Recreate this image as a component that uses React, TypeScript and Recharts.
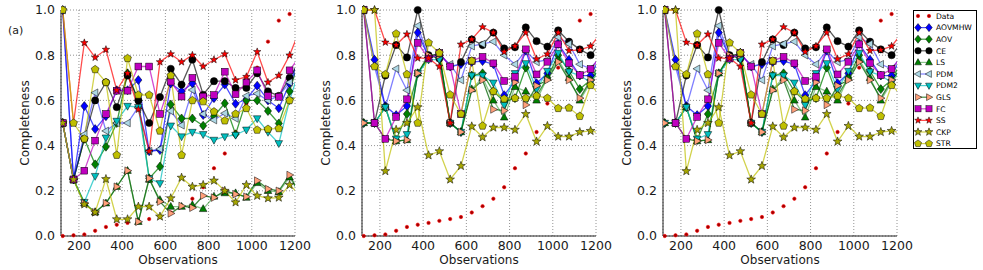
import React from 'react';
import { LineChart, Line, XAxis, YAxis, CartesianGrid, Legend } from 'recharts';

const X_VALUES = [125, 175, 225, 275, 325, 375, 425, 475, 525, 575, 625, 675, 725, 775, 825, 875, 925, 975, 1025, 1075, 1125, 1175, 1225];
const X_TICKS = [200, 400, 600, 800, 1000, 1200];
const Y_TICKS = [0, 0.2, 0.4, 0.6, 0.8, 1.0];
const X_DOMAIN = [117, 1200];

const DATA_PTS = [0.0, 0.003, 0.007, 0.023, 0.04, 0.05, 0.058, 0.067, 0.075, 0.084, 0.104, 0.132, 0.165, 0.216, 0.30, 0.365, 0.46, 0.586, 0.745, 0.86, 0.953, 0.982, null];

// Panel (a)
const AOVMHW_A = [1.0, 0.25, 0.575, 0.473, 0.53, 0.645, 0.645, 0.69, 0.375, 0.38, 0.675, 0.64, 0.675, 0.535, 0.61, 0.67, 0.585, 0.605, 0.665, 0.60, 0.565, 0.675, 0.80];
const AOV_A = [0.5, 0.25, 0.43, 0.317, 0.395, 0.50, 0.72, 0.60, 0.255, 0.307, 0.582, 0.52, 0.52, 0.488, 0.53, 0.587, 0.45, 0.60, 0.60, 0.553, 0.498, 0.64, 0.80];
const CE_A = [0.5, 0.25, 0.43, 0.60, 0.68, 0.57, 0.71, 0.60, 0.50, 0.615, 0.74, 0.67, 0.78, 0.625, 0.685, 0.685, 0.655, 0.655, 0.72, 0.64, 0.62, 0.70, 0.78];
const LS_A = [0.5, 0.25, 0.145, 0.105, 0.145, 0.218, 0.289, 0.063, 0.25, 0.16, 0.13, 0.13, 0.137, 0.12, 0.175, 0.19, 0.19, 0.17, 0.235, 0.20, 0.195, 0.26, 0.18];
const PDM_A = [1.0, 0.25, 0.45, 0.634, 0.465, 0.50, 0.50, 0.57, 0.375, 0.385, 0.553, 0.49, 0.646, 0.54, 0.513, 0.543, 0.52, 0.62, 0.63, 0.60, 0.62, 0.68, 0.76];
const PDM2_A = [0.5, 0.25, 0.15, 0.265, 0.435, 0.509, 0.575, 0.57, 0.255, 0.233, 0.488, 0.44, 0.46, 0.45, 0.425, 0.44, 0.447, 0.47, 0.52, 0.46, 0.41, 0.60, 0.75];
const GLS_A = [0.5, 0.25, 0.145, 0.105, 0.145, 0.218, 0.289, 0.063, 0.255, 0.152, 0.10, 0.133, 0.125, 0.178, 0.17, 0.20, 0.185, 0.174, 0.245, 0.208, 0.20, 0.27, 0.18];
const FC_A = [0.5, 0.25, 0.289, 0.422, 0.54, 0.643, 0.643, 0.75, 0.75, 0.54, 0.683, 0.617, 0.70, 0.617, 0.624, 0.727, 0.627, 0.68, 0.733, 0.62, 0.616, 0.733, 0.80];
const SS_A = [1.0, 0.5, 0.855, 0.79, 0.825, 0.645, 0.72, 0.56, 0.375, 0.77, 0.805, 0.77, 0.80, 0.75, 0.78, 0.805, 0.69, 0.705, 0.815, 0.68, 0.71, 0.80, 0.92];
const CKP_A = [0.5, 0.25, 0.14, 0.105, 0.252, 0.074, 0.074, 0.13, 0.13, 0.086, 0.167, 0.258, 0.218, 0.226, 0.245, 0.20, 0.149, 0.226, 0.178, 0.167, 0.17, 0.226, 0.18];
const STR_A = [1.0, 0.5, 0.43, 0.737, 0.68, 0.358, 0.786, 0.624, 0.624, 0.465, 0.71, 0.358, 0.60, 0.595, 0.55, 0.51, 0.54, 0.565, 0.469, 0.473, 0.476, 0.60, 0.62];

// Panels 2 and 3
const AOVMHW_B = [1.0, 0.78, 0.575, 0.535, 0.575, 0.90, 0.79, 0.81, 0.75, 0.76, 0.77, 0.774, 0.76, 0.623, 0.686, 0.82, 0.676, 0.72, 0.85, 0.78, 0.71, 0.71, 0.80];
const AOV_B = [0.5, 0.5, 0.57, 0.425, 0.54, 0.72, 0.79, 0.81, 0.50, 0.46, 0.71, 0.72, 0.64, 0.595, 0.61, 0.745, 0.62, 0.70, 0.80, 0.73, 0.65, 0.69, 0.78];
const CE_B = [1.0, 0.5, 0.71, 0.845, 0.79, 1.0, 0.80, 0.785, 0.50, 0.77, 0.87, 0.845, 0.90, 0.83, 0.835, 0.923, 0.862, 0.838, 0.91, 0.86, 0.826, 0.80, 0.86];
const LS_B = [0.5, 0.5, 0.57, 0.42, 0.425, 0.72, 0.79, 0.81, 0.50, 0.46, 0.65, 0.70, 0.60, 0.525, 0.66, 0.64, 0.60, 0.70, 0.78, 0.70, 0.60, 0.68, 0.74];
const PDM_B = [1.0, 0.75, 0.57, 0.74, 0.645, 0.93, 0.79, 0.80, 0.76, 0.69, 0.84, 0.85, 0.86, 0.80, 0.76, 0.82, 0.77, 0.78, 0.88, 0.85, 0.76, 0.74, 0.80];
const PDM2_B = [0.5, 0.5, 0.57, 0.43, 0.45, 0.72, 0.78, 0.78, 0.50, 0.46, 0.71, 0.71, 0.678, 0.58, 0.72, 0.764, 0.65, 0.73, 0.81, 0.727, 0.71, 0.68, 0.76];
const GLS_B = [0.5, 0.5, 0.43, 0.42, 0.425, 0.72, 0.80, 0.80, 0.50, 0.46, 0.645, 0.69, 0.56, 0.555, 0.68, 0.58, 0.665, 0.69, 0.77, 0.69, 0.61, 0.69, 0.75];
const FC_B = [1.0, 0.5, 0.43, 0.527, 0.605, 0.855, 0.785, 0.81, 0.75, 0.54, 0.775, 0.793, 0.764, 0.686, 0.705, 0.826, 0.715, 0.771, 0.848, 0.764, 0.712, 0.739, 0.80];
const SS_B = [1.0, 1.0, 0.857, 0.845, 0.893, 0.787, 0.787, 0.75, 0.50, 0.848, 0.87, 0.925, 0.90, 0.815, 0.84, 0.90, 0.783, 0.805, 0.90, 0.82, 0.823, 0.84, 0.90];
const CKP_B = [1.0, 1.0, 0.287, 0.47, 0.50, 0.57, 0.357, 0.375, 0.25, 0.31, 0.485, 0.437, 0.48, 0.48, 0.47, 0.54, 0.418, 0.487, 0.44, 0.44, 0.46, 0.465, 0.455];
const STR_B = [1.0, 0.75, 0.715, 0.895, 0.715, 0.50, 0.855, 0.81, 0.625, 0.54, 0.775, 0.487, 0.64, 0.607, 0.61, 0.61, 0.62, 0.61, 0.565, 0.567, 0.53, 0.667, 0.62];

const FONT = '"DejaVu Sans", Verdana, sans-serif';

type Style = { key: string; shape: string; face: string; line: string; op: number; size?: number };

const SERIES: Style[] = [
  { key: 'AOVMHW', shape: 'diamond', face: '#0000ff', line: '#0000ff', op: 0.7 },
  { key: 'AOV', shape: 'diamond', face: '#008000', line: '#008000', op: 0.75 },
  { key: 'CE', shape: 'circle', face: '#000000', line: '#000000', op: 0.65 },
  { key: 'LS', shape: 'triUp', face: '#008000', line: '#008000', op: 0.45 },
  { key: 'PDM', shape: 'triLeft', face: '#add8e6', line: '#0000ff', op: 0.5 },
  { key: 'PDM2', shape: 'triDown', face: '#00bfbf', line: '#00bfbf', op: 0.7 },
  { key: 'GLS', shape: 'triRight', face: '#ffa07a', line: '#006400', op: 0.75 },
  { key: 'FC', shape: 'square', face: '#bf00bf', line: '#bf00bf', op: 0.7 },
  { key: 'SS', shape: 'star', face: '#ff0000', line: '#ff0000', op: 0.7, size: 0.85 },
  { key: 'CKP', shape: 'star', face: '#a8a800', line: '#bfbf00', op: 0.7 },
  { key: 'STR', shape: 'pentagon', face: '#bfbf00', line: '#bfbf00', op: 0.7 },
];

function polyPts(shape: string, x: number, y: number, k: number): string {
  let pts: number[][] = [];
  if (shape === 'diamond') pts = [[0, -4.5], [3.6, 0], [0, 4.5], [-3.6, 0]];
  else if (shape === 'triUp') pts = [[0, -4.2], [3.8, 2.7], [-3.8, 2.7]];
  else if (shape === 'triDown') pts = [[0, 4.2], [3.8, -2.7], [-3.8, -2.7]];
  else if (shape === 'triLeft') pts = [[-4.2, 0], [2.7, -3.8], [2.7, 3.8]];
  else if (shape === 'triRight') pts = [[4.2, 0], [-2.7, -3.8], [-2.7, 3.8]];
  else if (shape === 'star') {
    for (let i = 0; i < 10; i++) {
      const a = (-90 + 36 * i) * Math.PI / 180;
      const r = i % 2 === 0 ? 4.6 : 1.9;
      pts.push([r * Math.cos(a), r * Math.sin(a)]);
    }
  } else if (shape === 'pentagon') {
    for (let i = 0; i < 5; i++) {
      const a = (-90 + 72 * i) * Math.PI / 180;
      pts.push([4.1 * Math.cos(a), 4.1 * Math.sin(a)]);
    }
  }
  return pts.map(p => `${(x + p[0] * k).toFixed(2)},${(y + p[1] * k).toFixed(2)}`).join(' ');
}

function Marker({ shape, x, y, face, size }: { shape: string; x: number; y: number; face: string; size?: number }) {
  const k = size ?? 1;
  if (shape === 'dot') return <circle cx={x} cy={y} r={1.7} fill="#a00000" stroke="#ff0000" strokeWidth={0.6} />;
  if (shape === 'circle') return <circle cx={x} cy={y} r={3.6 * k} fill={face} stroke="#000" strokeWidth={0.5} />;
  if (shape === 'square') {
    const h = 3.4 * k;
    return <rect x={x - h} y={y - h} width={2 * h} height={2 * h} fill={face} stroke="#000" strokeWidth={0.5} />;
  }
  return <polygon points={polyPts(shape, x, y, k)} fill={face} stroke="#000" strokeWidth={0.5} />;
}

const makeDot = (s: { key: string; shape: string; face: string; size?: number }) => (props: any) => {
  const { cx, cy, index, payload } = props;
  const key = `dot-${s.key}-${index}`;
  if (cx == null || cy == null || payload == null || payload[s.key] == null) return <g key={key} />;
  return (
    <g key={key}>
      <Marker shape={s.shape} x={cx} y={cy} face={s.face} size={s.size} />
    </g>
  );
};

function buildRows(series: Record<string, (number | null)[]>) {
  return X_VALUES.map((x, i) => {
    const row: Record<string, number | null> = { x, Data: DATA_PTS[i] };
    Object.keys(series).forEach(k => { row[k] = series[k][i]; });
    return row;
  });
}

const ROWS_A = buildRows({ AOVMHW: AOVMHW_A, AOV: AOV_A, CE: CE_A, LS: LS_A, PDM: PDM_A, PDM2: PDM2_A, GLS: GLS_A, FC: FC_A, SS: SS_A, CKP: CKP_A, STR: STR_A });
const ROWS_B = buildRows({ AOVMHW: AOVMHW_B, AOV: AOV_B, CE: CE_B, LS: LS_B, PDM: PDM_B, PDM2: PDM2_B, GLS: GLS_B, FC: FC_B, SS: SS_B, CKP: CKP_B, STR: STR_B });

const LEGEND_NAMES = ['Data', 'AOVMHW', 'AOV', 'CE', 'LS', 'PDM', 'PDM2', 'GLS', 'FC', 'SS', 'CKP', 'STR'];

function LegendBox() {
  const rowH = 11.6;
  const styles: Record<string, Style> = {};
  SERIES.forEach(s => { styles[s.key] = s; });
  return (
    <svg width={65} height={140} style={{ display: 'block' }}>
      <rect x={0.5} y={0.5} width={63} height={138} fill="#fff" stroke="#000" strokeWidth={1} />
      {LEGEND_NAMES.map((n, i) => {
        const y = 6 + i * rowH;
        const s = styles[n];
        return (
          <g key={n}>
            {s && <line x1={5} x2={16} y1={y} y2={y} stroke={s.line} strokeOpacity={s.op} strokeWidth={1.2} />}
            {n === 'Data' ? (
              <>
                <Marker shape="dot" x={5} y={y} face="#a00000" />
                <Marker shape="dot" x={16} y={y} face="#a00000" />
              </>
            ) : (
              <>
                <Marker shape={s.shape} x={5} y={y} face={s.face} size={(s.size ?? 1) * 0.9} />
                <Marker shape={s.shape} x={16} y={y} face={s.face} size={(s.size ?? 1) * 0.9} />
              </>
            )}
            <text x={23} y={y + 2.8} fontSize={7.6} fontFamily={FONT} fill="#000">{n}</text>
          </g>
        );
      })}
    </svg>
  );
}

function Panel({ rows, left, width, marginRight, legend }: { rows: any[]; left: number; width: number; marginRight: number; legend?: boolean }) {
  const tickStyle = { fontSize: 12.5, fill: '#1a1a1a', fontFamily: FONT };
  const labelStyle = { fontSize: 12, fill: '#1a1a1a', fontFamily: FONT };
  return (
    <div style={{ position: 'absolute', left, top: 0 }}>
      <LineChart width={width} height={270} data={rows} margin={{ top: 10, right: marginRight, bottom: 0, left: 0 }}>
        <CartesianGrid stroke="#777" strokeDasharray="1 2" strokeWidth={0.8} />
        <XAxis
          dataKey="x" type="number" domain={X_DOMAIN} ticks={X_TICKS} allowDataOverflow
          tickLine={false} tickSize={0} tickMargin={5} height={34} stroke="#222" tick={tickStyle}
          label={{ value: 'Observations', position: 'insideBottom', offset: 6, style: labelStyle }}
        />
        <XAxis xAxisId="top" orientation="top" dataKey="x" type="number" domain={X_DOMAIN} allowDataOverflow tick={false} tickLine={false} height={0} stroke="#222" />
        <YAxis
          type="number" domain={[0, 1]} ticks={Y_TICKS} tickFormatter={(v: number) => v.toFixed(1)}
          width={61} tickLine={false} tickSize={0} tickMargin={6} stroke="#222" tick={tickStyle}
          label={{ value: 'Completeness', angle: -90, position: 'center', dx: -6, style: labelStyle }}
        />
        <YAxis yAxisId="right" orientation="right" type="number" domain={[0, 1]} tick={false} tickLine={false} width={0} stroke="#222" />
        <Line dataKey="Data" stroke="none" strokeWidth={0} dot={makeDot({ key: 'Data', shape: 'dot', face: '#a00000' })} activeDot={false} isAnimationActive={false} legendType="none" />
        {SERIES.map(s => (
          <Line
            key={s.key} dataKey={s.key} stroke={s.line} strokeOpacity={s.op} strokeWidth={1.3}
            dot={makeDot(s)} activeDot={false} isAnimationActive={false} legendType="none"
          />
        ))}
        {legend && (
          <Legend
            layout="vertical" align="center" verticalAlign="middle"
            wrapperStyle={{ position: 'absolute', left: 311, top: 10, width: 65 }}
            content={() => <LegendBox />}
          />
        )}
      </LineChart>
    </div>
  );
}

export default function App() {
  return (
    <div style={{ position: 'absolute', left: 0, top: 0, width: 983, height: 270, background: '#fff', overflow: 'hidden' }}>
      <div style={{ position: 'absolute', left: 8, top: 25, fontSize: 11, fontFamily: FONT, color: '#1a1a1a', lineHeight: '12px' }}>(a)</div>
      <Panel rows={ROWS_A} left={0} width={320} marginRight={25} />
      <Panel rows={ROWS_B} left={301} width={320} marginRight={25} />
      <Panel rows={ROWS_B} left={602} width={381} marginRight={86} legend />
    </div>
  );
}
